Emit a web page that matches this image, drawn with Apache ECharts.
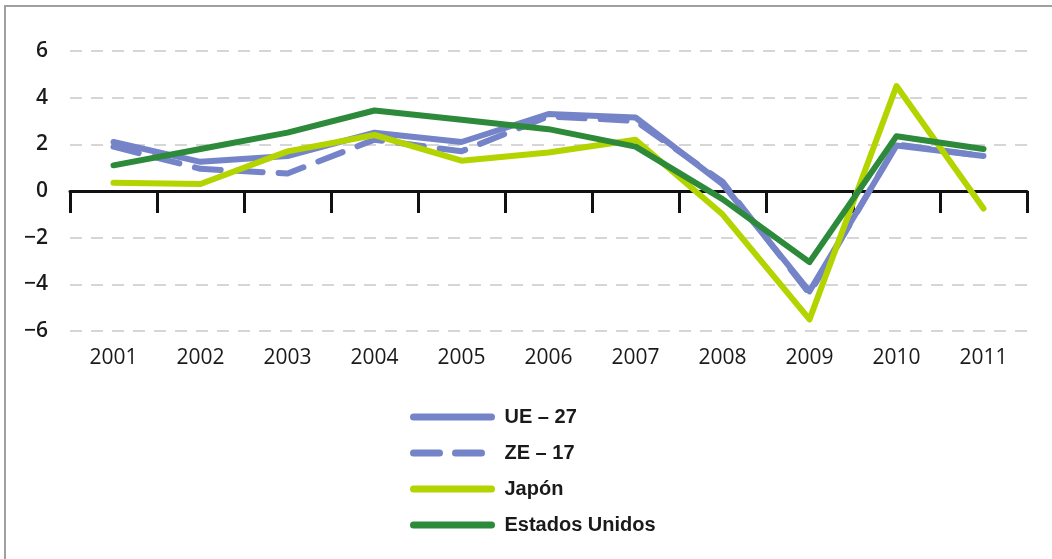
<!DOCTYPE html>
<html>
<head>
<meta charset="utf-8">
<script src="https://cdn.jsdelivr.net/npm/echarts@6/dist/echarts.min.js"></script>
<style>
  html, body { margin: 0; padding: 0; background: #fff; }
  #chart { width: 1052px; height: 559px; }
</style>
</head>
<body>
<div id="chart"></div>
<script>
// años
var years = ['2001', '2002', '2003', '2004', '2005', '2006', '2007', '2008', '2009', '2010', '2011']

// crecimiento del PIB (%)
var ue27 = [2.1, 1.25, 1.5, 2.5, 2.1, 3.3, 3.15, 0.3, -4.3, 1.95, 1.5]
var ze17 = [1.9, 0.95, 0.75, 2.2, 1.7, 3.2, 3.0, 0.4, -4.4, 2.0, 1.5]
var japon = [0.35, 0.3, 1.7, 2.4, 1.3, 1.65, 2.2, -1.0, -5.5, 4.5, -0.75]
var eeuu = [1.1, 1.8, 2.5, 3.45, 3.05, 2.65, 1.9, -0.35, -3.05, 2.35, 1.8]

var yTicks = [-6, -4, -2, 0, 2, 4, 6]

var blue = '#7584c8'
var lime = '#b4d400'
var green = '#2c8a3a'

function lineSeries (name, data, color, dash) {
  return {
    name: name,
    type: 'line',
    data: data,
    symbol: 'none',
    xAxisIndex: 0,
    lineStyle: { color: color, width: 6, type: dash || 'solid', cap: 'round', join: 'round' },
    itemStyle: { color: color }
  }
}

var chart = echarts.init(document.getElementById('chart'))

chart.setOption({
  backgroundColor: '#fff',
  animation: false,
  graphic: [{
    type: 'polyline',
    shape: { points: [[5, 600], [5, 6], [1100, 6]] },
    style: { stroke: '#a0a0a0', lineWidth: 2, fill: null }
  }],
  grid: { left: 70, right: 25, top: 51, bottom: 228, containLabel: false },
  legend: {
    orient: 'vertical',
    left: 405,
    top: 402,
    itemWidth: 78,
    itemHeight: 14,
    itemGap: 16,
    itemStyle: { opacity: 0 },
    lineStyle: { width: 7, cap: 'round' },
    textStyle: { fontFamily: 'Liberation Sans', fontWeight: 'bold', fontSize: 20, color: '#1a1a1a', padding: [0, 0, 0, 8] },
    data: ['UE – 27', 'ZE – 17', 'Japón', 'Estados Unidos']
  },
  xAxis: [{
    type: 'category',
    data: years,
    boundaryGap: true,
    axisLine: { onZero: true, lineStyle: { color: '#111', width: 3 } },
    axisTick: { show: true, length: 22, inside: false, lineStyle: { color: '#111', width: 3 } },
    axisLabel: { show: false },
    splitLine: { show: false }
  }, {
    type: 'category',
    data: years,
    position: 'bottom',
    boundaryGap: true,
    axisLine: { show: false, onZero: false },
    axisTick: { show: false },
    axisLabel: { show: true, margin: 17, fontFamily: 'Open Sans', fontSize: 21, color: '#1a1a1a' },
    splitLine: { show: false }
  }],
  yAxis: {
    type: 'value',
    min: yTicks[0],
    max: yTicks[yTicks.length - 1],
    interval: 2,
    axisLine: { show: false },
    axisTick: { show: false },
    axisLabel: {
      margin: 22,
      fontFamily: 'Open Sans',
      fontSize: 21,
      fontWeight: 600,
      color: '#1a1a1a',
      formatter: function (v) { return v < 0 ? '−' + Math.abs(v) : String(v) }
    },
    splitLine: {
      show: true,
      lineStyle: { color: '#d6d6d6', width: 2, type: [12, 9] }
    }
  },
  series: [
    lineSeries('UE – 27', ue27, blue),
    lineSeries('ZE – 17', ze17, blue, [26, 16]),
    lineSeries('Japón', japon, lime),
    lineSeries('Estados Unidos', eeuu, green)
  ]
})
</script>
</body>
</html>
